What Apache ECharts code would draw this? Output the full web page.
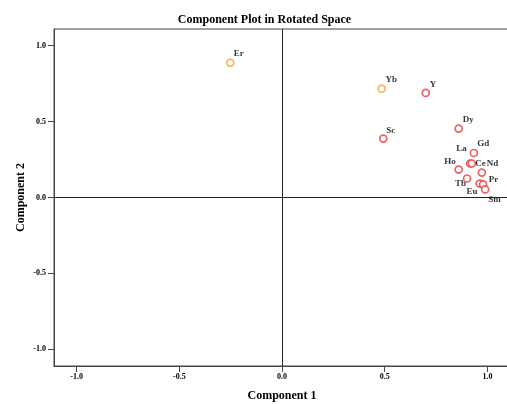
<!DOCTYPE html>
<html>
<head>
<meta charset="utf-8">
<script src="https://cdn.jsdelivr.net/npm/echarts@6/dist/echarts.min.js"></script>
<style>html,body{margin:0;padding:0;background:#fff;}#c{width:507px;height:404px;}</style>
</head>
<body>
<div id="c"></div>
<script>
// ---- data ----
const names = ['Er','Yb','Y','Dy','Sc','Gd','La','Ce','Nd','Ho','Tb','Eu','Pr','Sm'];
const comp1 = [-0.252, 0.485, 0.700, 0.860, 0.493, 0.934, 0.916, 0.924, 0.973, 0.860, 0.901, 0.962, 0.979, 0.989];
const comp2 = [0.887, 0.717, 0.689, 0.454, 0.388, 0.293, 0.224, 0.224, 0.164, 0.184, 0.125, 0.092, 0.086, 0.053];
const groupOrange = ['Er','Yb'];
const tickValues = [-1.0, -0.5, 0.0, 0.5, 1.0];

// ---- label placement (style) ----
const labelOffsets = {
  Er:[3.5,-9.5], Yb:[4,-9], Y:[4,-8], Dy:[4,-9], Sc:[3,-8], Gd:[3.5,-9],
  La:[-14,-15], Ce:[3.5,0], Nd:[5,-9], Ho:[-14.3,-7.6], Tb:[-12,5.4],
  Eu:[-13,7.7], Pr:[5.6,-4.3], Sm:[3,10.7]
};
const RED = '#ea3a40', ORANGE = '#f5a238';
const serif = '"Liberation Serif","DejaVu Serif",serif';

function makeData(filterFn){
  return names.map((n,i)=>({n,i})).filter(o=>filterFn(o.n)).map(o=>({
    name:o.n, value:[comp1[o.i], comp2[o.i]],
    label:{offset: labelOffsets[o.n]}
  }));
}
const labelStyle = {
  show:true, position:'inside', align:'left', verticalAlign:'middle',
  formatter:'{b}', color:'#000', fontFamily:serif, fontWeight:'bold', fontSize:9
};

const chart = echarts.init(document.getElementById('c'), null, {renderer:'canvas'});
chart.setOption({
  animation:false,
  title:{text:'Component Plot in Rotated Space', left:259.5, top:9, textAlign:'center',
    textStyle:{fontFamily:serif, fontWeight:'bold', fontSize:12, color:'#000'}},
  grid:{left:54, top:29, width:456, height:337, show:true, borderColor:'#444', borderWidth:1,
    containLabel:false, outerBoundsMode:'none'},
  xAxis:{type:'value', min:-1.11, max:1.11, name:'Component 1', nameLocation:'middle', nameGap:24,
    nameMoveOverlap:false,
    nameTextStyle:{fontFamily:serif, fontWeight:'bold', fontSize:12, color:'#000'},
    axisLine:{show:true, onZero:false, lineStyle:{color:'#444'}},
    axisTick:{show:true, inside:false, length:6, customValues:tickValues, lineStyle:{color:'#444'}},
    axisLabel:{customValues:tickValues, formatter:v=>v.toFixed(1), margin:7,
      fontFamily:serif, fontWeight:'bold', fontSize:8, color:'#000'},
    splitLine:{show:false}},
  yAxis:{type:'value', min:-1.11, max:1.11, name:'Component 2', nameLocation:'middle', nameGap:27,
    nameMoveOverlap:false,
    nameTextStyle:{fontFamily:serif, fontWeight:'bold', fontSize:12, color:'#000'},
    axisLine:{show:true, onZero:false, lineStyle:{color:'#444'}},
    axisTick:{show:true, inside:false, length:6, customValues:tickValues, lineStyle:{color:'#444'}},
    axisLabel:{customValues:tickValues, formatter:v=>v.toFixed(1), margin:8,
      fontFamily:serif, fontWeight:'bold', fontSize:8, color:'#000'},
    splitLine:{show:false}},
  series:[
    {type:'scatter', symbol:'circle', symbolSize:7,
      itemStyle:{color:'#fff', borderColor:RED, borderWidth:1.7},
      label:labelStyle,
      data:makeData(n=>groupOrange.indexOf(n)<0),
      markLine:{silent:true, symbol:['none','none'], label:{show:false},
        lineStyle:{color:'#222', width:1, type:'solid'},
        data:[{xAxis:0},{yAxis:0}]}
    },
    {type:'scatter', symbol:'circle', symbolSize:7,
      itemStyle:{color:'#fff', borderColor:ORANGE, borderWidth:1.7},
      label:labelStyle,
      data:makeData(n=>groupOrange.indexOf(n)>=0)}
  ]
});
</script>
</body>
</html>
